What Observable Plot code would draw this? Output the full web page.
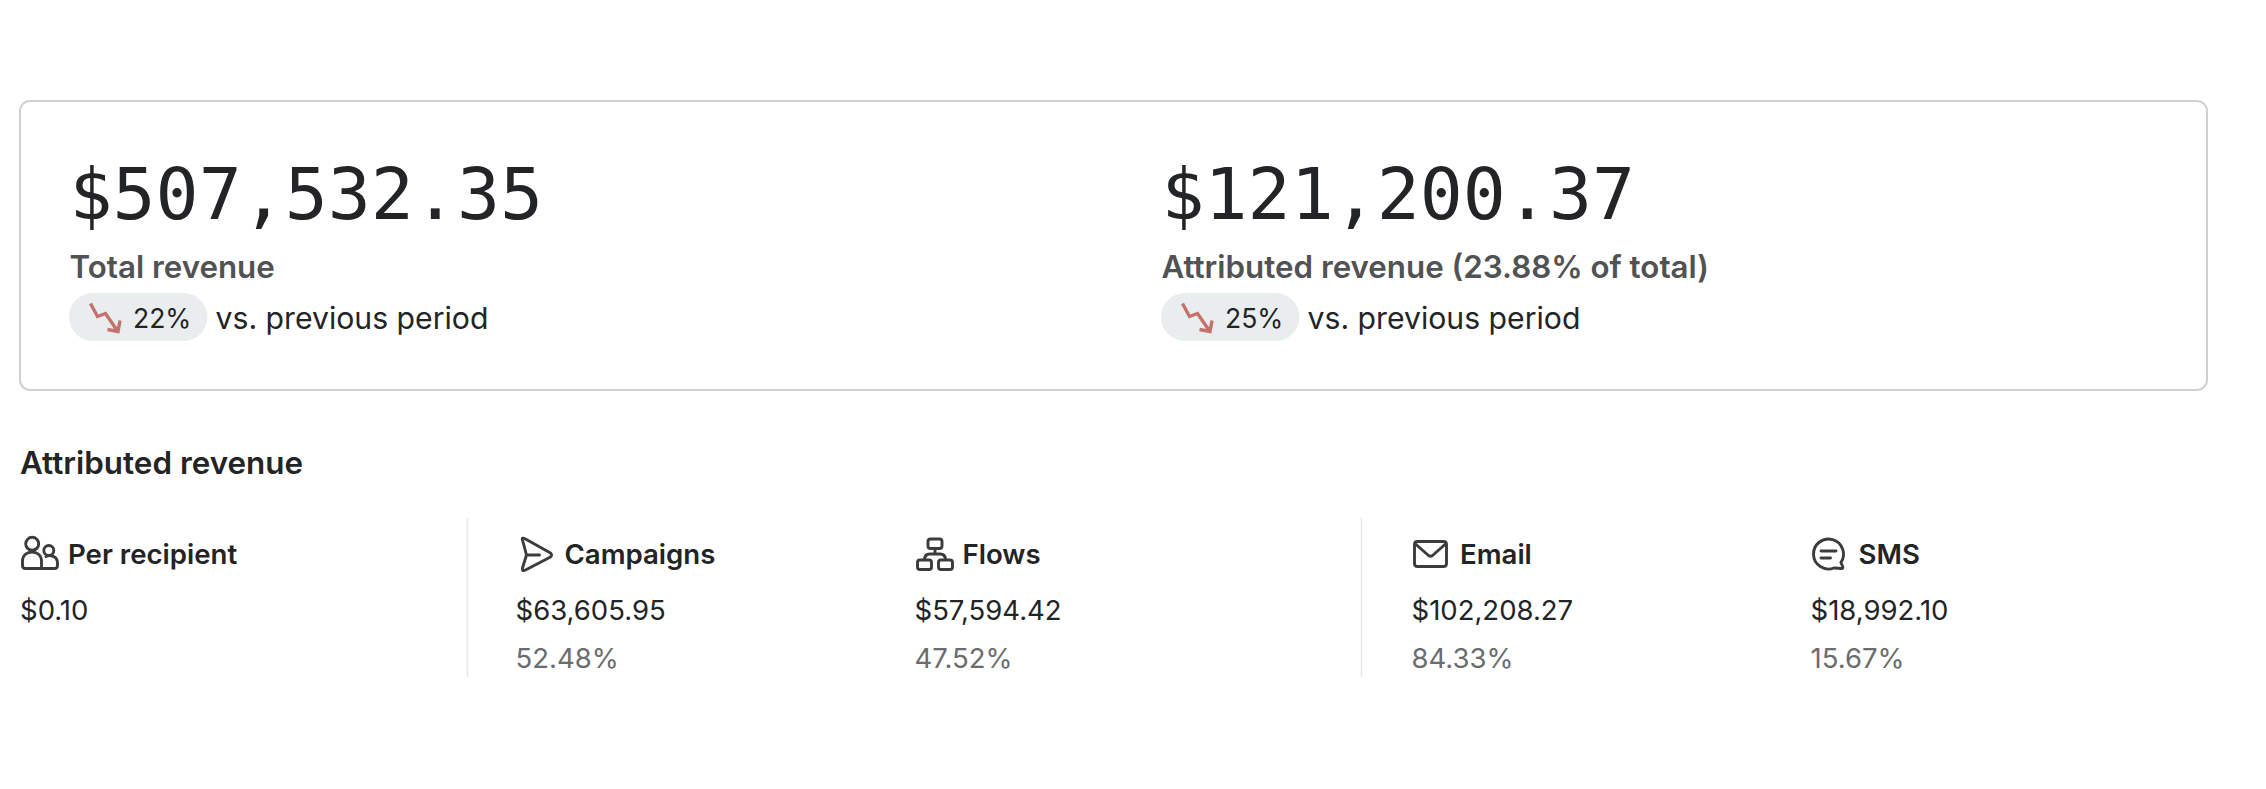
<!DOCTYPE html>
<html>
<head>
<meta charset="utf-8">
<script src="https://cdn.jsdelivr.net/npm/d3@7"></script>
<script src="https://cdn.jsdelivr.net/npm/@observablehq/plot@0.6"></script>
<style>
html,body{margin:0;padding:0;background:#fff;overflow:hidden}
svg{display:block}
</style>
</head>
<body>
<div id="chart"></div>
<script>
// ---- data ----
const headlineValues = [507532.35, 121200.37];
const headlineLabels = ["Total revenue", "Attributed revenue (23.88% of total)"];
const changePercents = [22, 25];
const comparisonText = "vs. previous period";
const sectionTitle = "Attributed revenue";
const metricNames = ["Per recipient", "Campaigns", "Flows", "Email", "SMS"];
const metricValues = [0.10, 63605.95, 57594.42, 102208.27, 18992.10];
const metricShares = [null, 52.48, 47.52, 84.33, 15.67];

// ---- layout, kept apart from the values ----
const W = 2266, H = 789;
const INTER = "Inter, sans-serif", MONO = "'DejaVu Sans Mono', monospace";
const headX = [70, 1162];
const pillW = 138.5;
const metricX = [19.5, 515, 914, 1411, 1810];
const iconX = [38.5, 536, 934.5, 1430, 1828];
const labelX = [67.5, 564, 962, 1459.5, 1858];
const dividerX = [467, 1361];
const DARK = "#222426", MID = "#505254", SOFT = "#6a6c6e", RED = "#c4736c";

const money = d3.format("$,.2f");
const idx = (a) => d3.range(a.length);
const fx = (a) => (i) => a[i];

const text = (data, t, x, y, size, weight, fill, family = INTER) =>
  Plot.text(data, {text: t, x, y, fontSize: size, fontWeight: weight, fill, fontFamily: family,
    textAnchor: "start", lineAnchor: "bottom"});

// ---- icons, drawn as custom dot symbols around their centre ----
const people = {draw(c) {
  c.moveTo(-0.3, -10.2); c.arc(-6.8, -10.2, 6.5, 0, 2 * Math.PI);
  c.moveTo(2.5, 14.5); c.lineTo(2.5, 7);
  c.bezierCurveTo(2.5, -5, -16.5, -5, -16.5, 7);
  c.lineTo(-16.5, 11.5); c.quadraticCurveTo(-16.5, 14.5, -13.5, 14.5);
  c.lineTo(15.5, 14.5); c.quadraticCurveTo(18.5, 14.5, 18.5, 11.5); c.lineTo(18.5, 9);
  c.bezierCurveTo(18.5, 2, 11, 0.5, 7, 2.5);
  c.moveTo(14.8, -3.5); c.arc(9.8, -3.5, 5, 0, 2 * Math.PI);
}};
const send = {draw(c) {
  c.moveTo(-14, -14);
  c.quadraticCurveTo(-15, -17, -11, -15);
  c.lineTo(14, -1); c.quadraticCurveTo(16, 1, 14, 3);
  c.lineTo(-11, 16); c.quadraticCurveTo(-15, 18, -14, 14);
  c.lineTo(-10, 1); c.closePath();
  c.moveTo(-10, 1); c.lineTo(3, 1);
}};
const roundBox = (c, x, y, w, h, r) => {
  c.moveTo(x + r, y); c.lineTo(x + w - r, y); c.quadraticCurveTo(x + w, y, x + w, y + r);
  c.lineTo(x + w, y + h - r); c.quadraticCurveTo(x + w, y + h, x + w - r, y + h);
  c.lineTo(x + r, y + h); c.quadraticCurveTo(x, y + h, x, y + h - r);
  c.lineTo(x, y + r); c.quadraticCurveTo(x, y, x + r, y); c.closePath();
};
const flows = {draw(c) {
  roundBox(c, -7, -15, 14, 9.5, 2.5);
  roundBox(c, -17.5, 6, 14, 9.5, 2.5);
  roundBox(c, 3.5, 6, 14, 9.5, 2.5);
  c.moveTo(0, -5.5); c.lineTo(0, 0);
  c.moveTo(-10.5, 6); c.quadraticCurveTo(-10.5, 0, -5, 0); c.lineTo(5, 0);
  c.quadraticCurveTo(10.5, 0, 10.5, 6);
}};
const mail = {draw(c) {
  roundBox(c, -16, -12.5, 32, 25, 3);
  c.moveTo(-15, -10); c.lineTo(-2, 1.5); c.quadraticCurveTo(0, 3, 2, 1.5); c.lineTo(15, -10);
}};
const bubble = {draw(c) {
  c.moveTo(12.4, 8.5);
  c.arc(0, 0, 15, 0.6, 1.2, true);
  c.lineTo(13, 14.5); c.quadraticCurveTo(15, 14.5, 14, 12); c.closePath();
  c.moveTo(-7.5, -3); c.lineTo(7.5, -3);
  c.moveTo(-7.5, 4); c.lineTo(2, 4);
}};
const icons = [people, send, flows, mail, bubble];
const iconMarks = icons.map((symbol, i) =>
  Plot.dot([i], {x: () => iconX[i], y: () => 553.5, symbol, r: 10, stroke: "#3a3c3e",
    strokeWidth: 2.9, fill: "none", strokeLinejoin: "round", strokeLinecap: "round"}));

// trend arrow inside each pill
const arrowShape = {draw(c) {
  c.moveTo(-14, -13); c.lineTo(-7, 0); c.lineTo(1, -3); c.lineTo(12, 13);
  c.moveTo(3, 13); c.lineTo(13.5, 15); c.lineTo(15.5, 4);
}};

const heads = idx(headlineValues);
const metrics = idx(metricNames);

const chart = Plot.plot({
  width: W, height: H, margin: 0,
  style: {background: "#fff"},
  x: {type: "linear", domain: [0, W], range: [0, W], axis: null},
  y: {type: "linear", domain: [0, H], range: [0, H], axis: null},
  marks: [
    // card
    Plot.rect([0], {x1: () => 20, x2: () => 2207, y1: () => 101, y2: () => 390, rx: 10,
      fill: "#fff", stroke: "#cfd0d1", strokeWidth: 2}),
    // pills
    Plot.rect(heads, {x1: (i) => headX[i] - 1, x2: (i) => headX[i] - 1 + pillW, y1: () => 293, y2: () => 341, rx: 24,
      fill: "#e9edee"}),
    ...heads.map((i) => Plot.dot([i], {x: () => headX[i] + 34, y: () => 316, symbol: arrowShape, r: 10,
      stroke: RED, strokeWidth: 3.4, fill: "none", strokeLinejoin: "miter"})),
    // headline figures
    text(heads, (i) => money(headlineValues[i]), (i) => headX[i] - 1, () => 218, 71.5, 400, DARK, MONO),
    text(heads, fx(headlineLabels), (i) => headX[i] - 1, () => 277, 31.3, 600, MID),
    text(heads, (i) => changePercents[i] + "%", (i) => headX[i] + 62.5, () => 327, 26.5, 400, DARK),
    text(heads, () => comparisonText, (i) => headX[i] + 145, () => 328, 30.2, 400, DARK),
    // section
    text([0], () => sectionTitle, () => 19.5, () => 473, 31.4, 600, DARK),
    Plot.ruleX(dividerX, {x: (d) => d, y1: () => 518, y2: () => 677, stroke: "#e6e6e6", strokeWidth: 1.5}),
    ...iconMarks,
    text(metrics, fx(metricNames), fx(labelX), () => 563, 27.6, 600, DARK),
    text(metrics, (i) => money(metricValues[i]), fx(metricX), () => 619, 27.5, 400, DARK),
    text(metrics.filter((i) => metricShares[i] != null), (i) => metricShares[i].toFixed(2) + "%", fx(metricX), () => 667, 27.5, 400, SOFT)
  ]
});
document.getElementById("chart").append(chart);
</script>
</body>
</html>
